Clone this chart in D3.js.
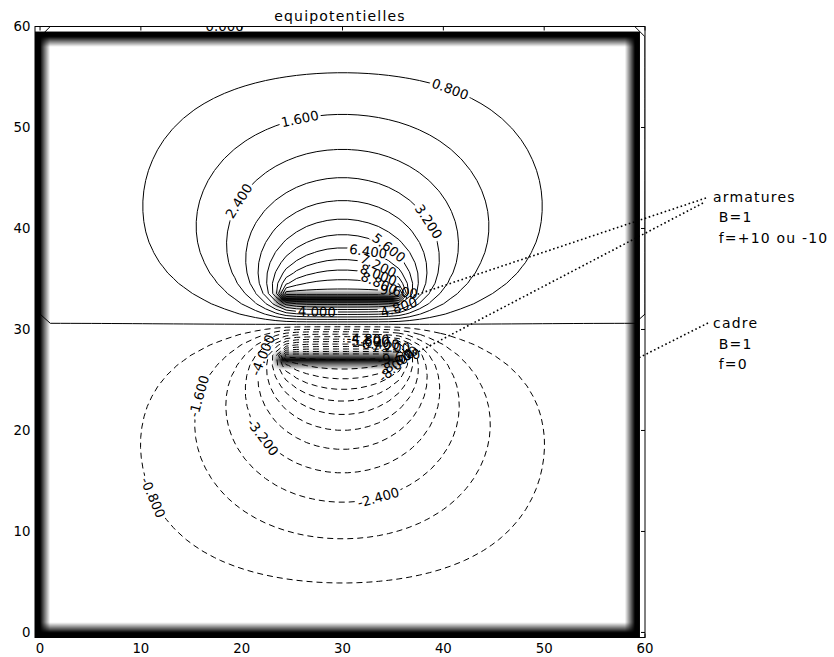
<!DOCTYPE html>
<html>
<head>
<meta charset="utf-8">
<script src="https://cdn.jsdelivr.net/npm/d3@7"></script>
<style>
  body { margin: 0; background: #fff; }
  svg text { font-family: "DejaVu Sans", sans-serif; fill: #000; }
</style>
</head>
<body>
<svg id="chart" width="834" height="657"></svg>
<script>
// ---- problem definition -------------------------------------------------
const gridSize = 60;                 // nodes per side (indices 0..59)
const plotSpan = 60;                 // contour coordinates run 0..60
const framePotential = 0;            // "cadre"  f = 0
const plateRows = [33, 27];          // "armatures" rows
const plateColRange = [24, 35];      // columns covered by both plates
const platePotentials = [10, -10];   // f = +10 ou -10
const levels = d3.range(-12, 13).map(k => +(k * 0.8).toFixed(1));
const xTicks = [0, 10, 20, 30, 40, 50, 60];
const yTicks = [0, 10, 20, 30, 40, 50, 60];
const titleText = "equipotentielles";
const armatureLines = ["armatures", " B=1", " f=+10 ou -10"];
const cadreLines = ["cadre", " B=1", " f=0"];

// where each contour label sits (contour coordinates), snapped to its line
const labelAnchors = [
  { level: 0.8, x: 41.2, y: 53.7 }, { level: 1.6, x: 25.8, y: 50.9 },
  { level: 2.4, x: 19.6, y: 42.8 }, { level: 3.2, x: 36.2, y: 39.3 },
  { level: 4.0, x: 27.6, y: 31.7 }, { level: 4.8, x: 36.0, y: 32.1 },
  { level: 5.6, x: 34.9, y: 38.1 }, { level: 6.4, x: 32.3, y: 38.3 },
  { level: 7.2, x: 33.7, y: 36.7 }, { level: 8.0, x: 33.9, y: 35.4 },
  { level: 8.8, x: 33.7, y: 34.5 }, { level: 9.6, x: 35.2, y: 33.8 },
  { level: 0.0, x: 18.3, y: 60.0 },
  { level: -0.8, x: 10.9, y: 13.4 }, { level: -1.6, x: 15.9, y: 23.3 },
  { level: -2.4, x: 33.2, y: 14.1 }, { level: -3.2, x: 21.3, y: 19.3 },
  { level: -4.0, x: 19.3, y: 28.0 }, { level: -4.8, x: 32.4, y: 29.4 },
  { level: -5.6, x: 32.9, y: 28.7 }, { level: -6.4, x: 33.7, y: 28.2 },
  { level: -7.2, x: 34.4, y: 27.7 }, { level: -8.0, x: 35.0, y: 27.2 },
  { level: -8.8, x: 35.6, y: 26.7 }, { level: -9.6, x: 36.1, y: 26.2 }
];

// ---- potential field: relaxation of Laplace's equation -------------------
const N = gridSize;
const B = new Float64Array(N * N);   // 1 on electrodes (frame + plates)
const V = new Float64Array(N * N);
for (let j = 0; j < N; j++) for (let i = 0; i < N; i++) {
  if (i === 0 || j === 0 || i === N - 1 || j === N - 1) {
    B[j * N + i] = 1; V[j * N + i] = framePotential;
  }
}
plateRows.forEach((row, k) => {
  for (let i = plateColRange[0]; i <= plateColRange[1]; i++) {
    B[row * N + i] = 1; V[row * N + i] = platePotentials[k];
  }
});
const omega = 2 / (1 + Math.sin(Math.PI / N));
for (let it = 0; it < 20000; it++) {
  let maxd = 0;
  for (let j = 1; j < N - 1; j++) for (let i = 1; i < N - 1; i++) {
    const p = j * N + i;
    if (B[p]) continue;
    const d = 0.25 * (V[p - 1] + V[p + 1] + V[p - N] + V[p + N]) - V[p];
    V[p] += omega * d;
    if (Math.abs(d) > maxd) maxd = Math.abs(d);
  }
  if (maxd < 1e-10) break;
}
const negV = V.map(v => -v);

// ---- layout ---------------------------------------------------------------
const svg = d3.select("#chart");
const x = d3.scaleLinear().domain([-0.5, 60]).range([35, 645]);
const y = d3.scaleLinear().domain([-0.5, 60]).range([637.5, 26.5]);
const gridToPlot = d3.scaleLinear().domain([0, N - 1]).range([0, plotSpan]);

const defs = svg.append("defs");
defs.append("clipPath").attr("id", "axesClip")
  .append("rect").attr("x", x(-0.5)).attr("y", y(60))
  .attr("width", x(60) - x(-0.5)).attr("height", y(-0.5) - y(60));

// ---- electrode map image (bilinear, grey) ---------------------------------
{
  const x0 = x(-0.5), x1 = x(N - 0.5), y0 = y(N - 0.5), y1 = y(-0.5);
  const w = Math.round(x1 - x0), h = Math.round(y1 - y0);
  const cv = document.createElement("canvas");
  cv.width = w; cv.height = h;
  const ctx = cv.getContext("2d");
  const img = ctx.createImageData(w, h);
  const at = (i, j) => B[Math.max(0, Math.min(N - 1, j)) * N + Math.max(0, Math.min(N - 1, i))];
  for (let v = 0; v < h; v++) {
    const gy = Math.max(0, Math.min(N - 1, (N - 0.5) - (v + 0.5) / h * N));
    const j0 = Math.floor(gy), fy = gy - j0;
    for (let u = 0; u < w; u++) {
      const gx = Math.max(0, Math.min(N - 1, -0.5 + (u + 0.5) / w * N));
      const i0 = Math.floor(gx), fx = gx - i0;
      const b = (at(i0, j0) * (1 - fx) + at(i0 + 1, j0) * fx) * (1 - fy) +
                (at(i0, j0 + 1) * (1 - fx) + at(i0 + 1, j0 + 1) * fx) * fy;
      const g = Math.round(255 * (1 - b));
      const o = (v * w + u) * 4;
      img.data[o] = img.data[o + 1] = img.data[o + 2] = g; img.data[o + 3] = 255;
    }
  }
  ctx.putImageData(img, 0, 0);
  svg.append("image").attr("href", cv.toDataURL())
    .attr("x", x0).attr("y", y0).attr("width", x1 - x0).attr("height", y1 - y0)
    .attr("preserveAspectRatio", "none");
}

// ---- contour lines ----------------------------------------------------------
const contourGen = d3.contours().size([N, N]);
const onBorder = p => p[0] === 0 || p[0] === N || p[1] === 0 || p[1] === N;
const toPx = p => [x(gridToPlot(p[0] - 0.5)), y(gridToPlot(p[1] - 0.5))];

function traceLevel(level) {
  // the zero line is traced on the reversed field so it closes around f > 0
  const field = level === 0 ? negV : V;
  const geom = contourGen.thresholds([level === 0 ? 0 : level])(field)[0];
  const runs = [];
  for (const poly of geom.coordinates) for (const ring of poly) {
    let run = null;
    for (let k = 0; k < ring.length - 1; k++) {
      const a = ring[k], b = ring[k + 1];
      if (onBorder(a) && onBorder(b)) { run = null; continue; }
      if (!run) { run = [toPx(a)]; runs.push(run); }
      run.push(toPx(b));
    }
  }
  return runs;
}

const contourLayer = svg.append("g").attr("clip-path", "url(#axesClip)");
const labelLayer = svg.append("g").attr("clip-path", "url(#axesClip)");
const line = d3.line();

levels.forEach((level, idx) => {
  const runs = traceLevel(level);
  const path = contourLayer.append("path")
    .attr("d", runs.map(r => line(r)).join(""))
    .attr("fill", "none").attr("stroke", "#000").attr("stroke-width", 1)
    .attr("stroke-dasharray", level < 0 ? "6,4" : null);

  const anchor = labelAnchors.find(a => Math.abs(a.level - level) < 1e-6);
  if (!anchor || !runs.length) return;
  const ax = x(anchor.x), ay = y(anchor.y);
  let best = null;
  runs.forEach(r => r.forEach((p, k) => {
    const d = (p[0] - ax) ** 2 + (p[1] - ay) ** 2;
    if (!best || d < best.d) best = { d, r, k };
  }));
  const r = best.r, k = best.k;
  const pa = r[Math.max(0, k - 3)], pb = r[Math.min(r.length - 1, k + 3)];
  let ang = Math.atan2(pb[1] - pa[1], pb[0] - pa[0]) * 180 / Math.PI;
  if (ang > 90) ang -= 180;
  if (ang < -90) ang += 180;
  const [lx, ly] = r[k];

  const text = labelLayer.append("text")
    .attr("transform", `translate(${lx},${ly}) rotate(${ang})`)
    .attr("text-anchor", "middle").attr("dominant-baseline", "central")
    .attr("font-size", 13.3)
    .text(level.toFixed(3));
  const tw = text.node().getComputedTextLength();

  const mask = defs.append("mask").attr("id", "gap" + idx)
    .attr("maskUnits", "userSpaceOnUse")
    .attr("x", 0).attr("y", 0).attr("width", 834).attr("height", 657);
  mask.append("rect").attr("width", 834).attr("height", 657).attr("fill", "#fff");
  mask.append("rect")
    .attr("transform", `translate(${lx},${ly}) rotate(${ang})`)
    .attr("x", -tw / 2 - 2).attr("y", -5).attr("width", tw + 4).attr("height", 10)
    .attr("fill", "#000");
  path.attr("mask", `url(#gap${idx})`);
});

// ---- axes frame and ticks -----------------------------------------------------
const frame = svg.append("g");
frame.append("rect")
  .attr("x", x(-0.5)).attr("y", y(60))
  .attr("width", x(60) - x(-0.5)).attr("height", y(-0.5) - y(60))
  .attr("fill", "none").attr("stroke", "#000").attr("stroke-width", 1);

const tickLen = 4;
xTicks.forEach(t => {
  frame.append("line").attr("x1", x(t)).attr("x2", x(t))
    .attr("y1", y(-0.5)).attr("y2", y(-0.5) - tickLen).attr("stroke", "#000");
  frame.append("line").attr("x1", x(t)).attr("x2", x(t))
    .attr("y1", y(60)).attr("y2", y(60) + tickLen).attr("stroke", "#000");
  frame.append("text").attr("x", x(t)).attr("y", 653)
    .attr("text-anchor", "middle").attr("font-size", 13.3).text(t);
});
yTicks.forEach(t => {
  frame.append("line").attr("x1", x(-0.5)).attr("x2", x(-0.5) + tickLen)
    .attr("y1", y(t)).attr("y2", y(t)).attr("stroke", "#000");
  frame.append("line").attr("x1", x(60)).attr("x2", x(60) - tickLen)
    .attr("y1", y(t)).attr("y2", y(t)).attr("stroke", "#000");
  frame.append("text").attr("x", 30.5).attr("y", y(t))
    .attr("text-anchor", "end").attr("dominant-baseline", "central")
    .attr("font-size", 13.3).text(t);
});

svg.append("text").attr("x", (x(-0.5) + x(60)) / 2).attr("y", 20.5)
  .attr("text-anchor", "middle").attr("font-size", 14).attr("letter-spacing", 1.2)
  .text(titleText);

// ---- annotations ------------------------------------------------------------
const notes = svg.append("g");
const dotted = (x1, y1, x2, y2) => notes.append("line")
  .attr("x1", x1).attr("y1", y1).attr("x2", x2).attr("y2", y2)
  .attr("stroke", "#000").attr("stroke-width", 1.6)
  .attr("stroke-dasharray", "1.6,2.6");
dotted(706, 198, x(36), y(33));
dotted(703, 203, x(36), y(27));
dotted(708, 323, x(59), y(27));

function block(lines, left, top) {
  lines.forEach((s, k) => {
    notes.append("text").attr("x", left).attr("y", top + k * 20.7)
      .attr("font-size", 14).attr("letter-spacing", 1.2)
      .attr("xml:space", "preserve").style("white-space", "pre")
      .text(s);
  });
}
block(armatureLines, 713, 201.7);
block(cadreLines, 713, 328);
</script>
</body>
</html>
